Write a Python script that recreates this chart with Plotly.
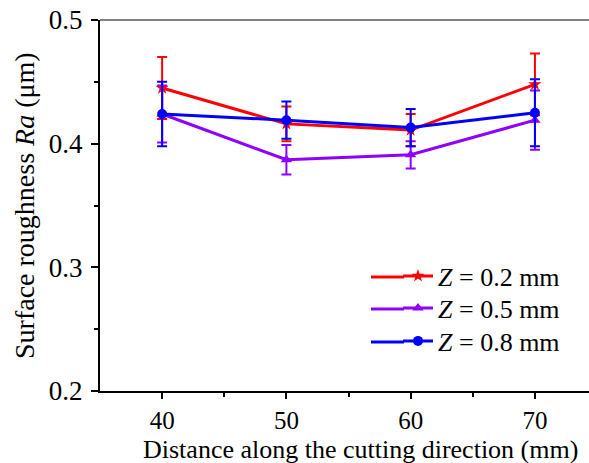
import plotly.graph_objects as go

x_vals = [40, 50, 60, 70]
z02 = [0.445, 0.416, 0.411, 0.448]
z02_err = [0.025, 0.014, 0.013, 0.025]
z05 = [0.424, 0.387, 0.391, 0.419]
z05_err = [0.023, 0.012, 0.011, 0.024]
z08 = [0.424, 0.419, 0.413, 0.425]
z08_err = [0.026, 0.015, 0.015, 0.027]

names = ["<i>Z</i> = 0.2 mm", "<i>Z</i> = 0.5 mm", "<i>Z</i> = 0.8 mm"]
colors = ["#FF0000", "#8F00FF", "#0000FF"]
symbols = ["star", "triangle-up", "circle"]
legend_ids = ["legend", "legend2", "legend3"]

FONT = "Liberation Serif, Times New Roman, serif"

W, H = 589, 463
L, R, T, B = 100, 0, 20, 72
PW, PH = W - L - R, H - T - B


def px_x(p):
    return (p - L) / PW


def px_y(p):
    return 1 - (p - T) / PH


fig = go.Figure()
for name, ys, es, c, s, lg in zip(names, [z02, z05, z08], [z02_err, z05_err, z08_err],
                                  colors, symbols, legend_ids):
    fig.add_trace(go.Scatter(
        x=x_vals, y=ys, name=name, mode="lines+markers", legend=lg,
        line=dict(color=c, width=3),
        marker=dict(symbol=s, size=10, color=c),
        error_y=dict(type="data", array=es, visible=True, color=c, thickness=2, width=5),
    ))

legend_rows = [276, 308, 341]
leg_common = dict(x=px_x(398), xanchor="left", yanchor="middle",
                  bgcolor="rgba(0,0,0,0)", font=dict(size=26, family=FONT))

# extend the short legend sample lines to the left
shapes = [dict(type="line", xref="paper", yref="paper", x0=0, x1=1, y0=1, y1=1,
               line=dict(color="#808080", width=2))]
for c, r in zip(colors, legend_rows):
    shapes.append(dict(type="line", xref="paper", yref="paper",
                       x0=px_x(371), x1=px_x(404), y0=px_y(r + 1), y1=px_y(r + 1),
                       line=dict(color=c, width=3)))

fig.update_layout(
    width=W, height=H,
    margin=dict(l=L, r=R, t=T, b=B),
    paper_bgcolor="white", plot_bgcolor="white",
    font=dict(family=FONT, size=26, color="black"),
    showlegend=True,
    legend=dict(y=px_y(legend_rows[0]), **leg_common),
    legend2=dict(y=px_y(legend_rows[1]), **leg_common),
    legend3=dict(y=px_y(legend_rows[2]), **leg_common),
    xaxis=dict(range=[35, 74.35], tickvals=[40, 50, 60, 70], ticks="outside",
               ticklen=6, tickwidth=1.5, tickcolor="black",
               showline=True, linecolor="black", linewidth=2,
               showgrid=False, zeroline=False,
               minor=dict(tickvals=[45, 55, 65], ticks="outside", ticklen=4, tickcolor="black"),
               tickfont=dict(size=25, family=FONT)),
    yaxis=dict(range=[0.2, 0.5], tickvals=[0.2, 0.3, 0.4, 0.5], ticktext=["0.2", "0.3", "0.4", "0.5"],
               ticks="outside", ticklen=7, tickwidth=1.5, tickcolor="black",
               showline=True, linecolor="black", linewidth=2,
               showgrid=False, zeroline=False, ticklabelstandoff=3,
               minor=dict(tickvals=[0.25, 0.35, 0.45], ticks="outside", ticklen=4, tickcolor="black"),
               tickfont=dict(size=27, family=FONT)),
    shapes=shapes,
    annotations=[
        dict(text="Distance along the cutting direction (mm)", xref="paper", yref="paper",
             x=px_x(360), y=px_y(449), xanchor="center", yanchor="middle", showarrow=False,
             borderpad=0, font=dict(size=26, family=FONT)),
        dict(text="Surface roughness <i>Ra</i> (μm)", xref="paper", yref="paper",
             x=px_x(24), y=px_y(206), xanchor="center", yanchor="middle", showarrow=False,
             textangle=-90, font=dict(size=28, family=FONT)),
    ],
)

fig.write_html("out.html")
